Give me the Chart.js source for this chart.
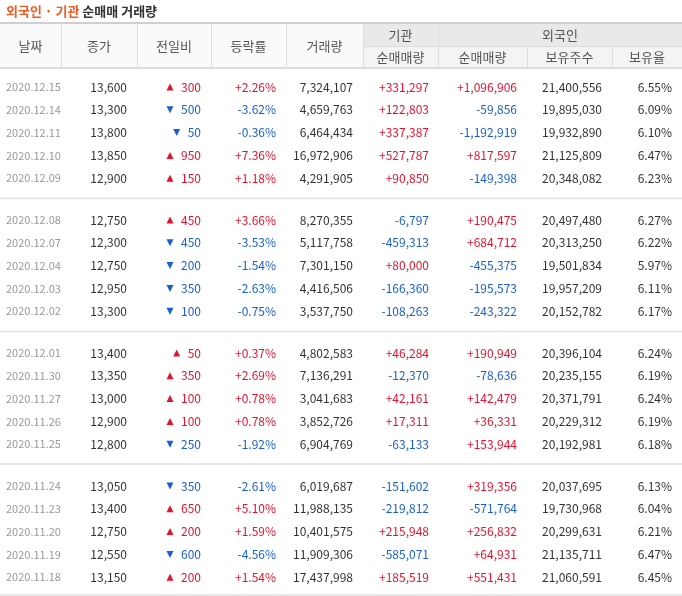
<!DOCTYPE html>
<html>
<head>
<meta charset="utf-8">
<script src="https://cdn.jsdelivr.net/npm/chart.js@4"></script>
<style>
  html, body { margin: 0; padding: 0; background: #fff; }
  #wrap { width: 682px; height: 596px; }
</style>
</head>
<body>
<div id="wrap"><canvas id="myChart"></canvas></div>
<script>
/*========== DATA ==========*/
const dates = ['2020.12.15','2020.12.14','2020.12.11','2020.12.10','2020.12.09',
  '2020.12.08','2020.12.07','2020.12.04','2020.12.03','2020.12.02',
  '2020.12.01','2020.11.30','2020.11.27','2020.11.26','2020.11.25',
  '2020.11.24','2020.11.23','2020.11.20','2020.11.19','2020.11.18'];
const closes = [13600,13300,13800,13850,12900, 12750,12300,12750,12950,13300,
  13400,13350,13000,12900,12800, 13050,13400,12750,12550,13150];
const changes = [300,-500,-50,950,150, 450,-450,-200,-350,-100,
  50,350,100,100,-250, -350,650,200,-600,200];
const rates = [2.26,-3.62,-0.36,7.36,1.18, 3.66,-3.53,-1.54,-2.63,-0.75,
  0.37,2.69,0.78,0.78,-1.92, -2.61,5.10,1.59,-4.56,1.54];
const volumes = [7324107,4659763,6464434,16972906,4291905, 8270355,5117758,7301150,4416506,3537750,
  4802583,7136291,3041683,3852726,6904769, 6019687,11988135,10401575,11909306,17437998];
const instNet = [331297,122803,337387,527787,90850, -6797,-459313,80000,-166360,-108263,
  46284,-12370,42161,17311,-63133, -151602,-219812,215948,-585071,185519];
const foreignNet = [1096906,-59856,-1192919,817597,-149398, 190475,684712,-455375,-195573,-243322,
  190949,-78636,142479,36331,153944, 319356,-571764,256832,64931,551431];
const foreignHold = [21400556,19895030,19932890,21125809,20348082, 20497480,20313250,19501834,19957209,20152782,
  20396104,20235155,20371791,20229312,20192981, 20037695,19730968,20299631,21135711,21060591];
const foreignRate = [6.55,6.09,6.10,6.47,6.23, 6.27,6.22,5.97,6.11,6.17,
  6.24,6.19,6.24,6.19,6.18, 6.13,6.04,6.21,6.47,6.45];

// vị trí cột (biên phải)
const colEdges = [0, 61, 137, 211, 286, 363, 438, 527, 612, 682];

const RED = '#e8112d', BLUE = '#1a5fd1', DARK = '#333', GRAY = '#999';
const FONT = '"Noto Sans CJK KR", "Noto Sans", sans-serif';

const fmt = n => Math.abs(n).toLocaleString('en-US');
const signed = n => (n > 0 ? '+' : '-') + fmt(n);
const rowY = i => 87 + Math.floor(i / 5) * 133 + (i % 5) * 22.8;

/*========== PLUGIN VE BANG ==========*/
const tablePlugin = {
  id: 'table',
  afterDraw(chart) {
    const c = chart.ctx, sx = chart.scales.x, sy = chart.scales.y;
    const X = v => sx.getPixelForValue(v), Y = v => sy.getPixelForValue(v);
    c.save();

    // tiêu đề
    c.font = 'bold 13px ' + FONT;
    c.textBaseline = 'middle';
    c.textAlign = 'left';
    c.fillStyle = '#f15a22';
    c.fillText('외국인 · 기관', X(6), Y(11));
    const w = c.measureText('외국인 · 기관 ').width;
    c.fillStyle = '#333';
    c.fillText('순매매 거래량', X(6) + w, Y(11));

    // header nền
    c.fillStyle = '#fafafa';
    c.fillRect(X(0), Y(24), X(363), Y(68) - Y(24));
    c.fillStyle = '#e9e9e9';
    c.fillRect(X(363), Y(24), X(682) - X(363), Y(46) - Y(24));
    c.fillStyle = '#f4f4f4';
    c.fillRect(X(363), Y(46), X(682) - X(363), Y(68) - Y(24) - (Y(46) - Y(24)));

    // đường kẻ header
    c.strokeStyle = '#dcdcdc';
    c.lineWidth = 1;
    for (let k = 1; k < colEdges.length - 1; k++) {
      const e = colEdges[k];
      if (e === 527 || e === 612) { line(c, X(e) + .5, Y(46), X(e) + .5, Y(68)); }
      else line(c, X(e) + .5, Y(24), X(e) + .5, Y(68));
    }
    line(c, X(438), Y(46) + .5, X(682), Y(46) + .5);
    line(c, X(363), Y(46) + .5, X(438), Y(46) + .5);
    c.strokeStyle = '#cfcfcf'; c.lineWidth = 2;
    line(c, X(0), Y(23), X(682), Y(23));
    c.strokeStyle = '#dddddd'; c.lineWidth = 2;
    line(c, X(0), Y(68), X(682), Y(68));

    // chữ header
    c.font = '13px ' + FONT;
    c.fillStyle = '#555';
    c.textAlign = 'center';
    const mid = k => (X(colEdges[k]) + X(colEdges[k + 1])) / 2;
    ['날짜', '종가', '전일비', '등락률', '거래량'].forEach((t, k) => c.fillText(t, mid(k), Y(46)));
    c.fillText('기관', mid(5), Y(35));
    c.fillText('외국인', (X(438) + X(682)) / 2, Y(35));
    ['순매매량', '순매매량', '보유주수', '보유율'].forEach((t, k) => c.fillText(t, mid(k + 5), Y(57)));

    // đường phân nhóm
    c.strokeStyle = '#e2e2e2'; c.lineWidth = 1.5;
    [198.5, 331.5, 464, 595].forEach(v => line(c, X(0), Y(v), X(682), Y(v)));

    // dữ liệu
    c.font = '12px ' + FONT;
    dates.forEach((d, i) => {
      const y = Y(rowY(i));
      c.textAlign = 'left';
      c.fillStyle = GRAY;
      c.font = '11px ' + FONT;
      c.fillText(d, X(6), y);
      c.font = '12px ' + FONT;
      c.textAlign = 'right';
      c.fillStyle = DARK;
      c.fillText(fmt(closes[i]), X(127), y);

      const up = changes[i] > 0;
      c.fillStyle = up ? RED : BLUE;
      c.fillText(fmt(changes[i]), X(201), y);
      const tw = c.measureText(fmt(changes[i])).width;
      const tx = X(201) - tw - 11;
      c.beginPath();
      if (up) { c.moveTo(tx - 3.5, y + 3.5); c.lineTo(tx + 3.5, y + 3.5); c.lineTo(tx, y - 3.5); }
      else { c.moveTo(tx - 3.5, y - 3.5); c.lineTo(tx + 3.5, y - 3.5); c.lineTo(tx, y + 3.5); }
      c.closePath(); c.fill();

      c.fillStyle = rates[i] > 0 ? RED : BLUE;
      c.fillText((rates[i] > 0 ? '+' : '-') + Math.abs(rates[i]).toFixed(2) + '%', X(276), y);
      c.fillStyle = DARK;
      c.fillText(fmt(volumes[i]), X(353), y);
      c.fillStyle = instNet[i] > 0 ? RED : BLUE;
      c.fillText(signed(instNet[i]), X(429), y);
      c.fillStyle = foreignNet[i] > 0 ? RED : BLUE;
      c.fillText(signed(foreignNet[i]), X(517), y);
      c.fillStyle = DARK;
      c.fillText(fmt(foreignHold[i]), X(602), y);
      c.fillText(foreignRate[i].toFixed(2) + '%', X(672), y);
    });
    c.restore();
  }
};

function line(c, x1, y1, x2, y2) {
  c.beginPath(); c.moveTo(x1, y1); c.lineTo(x2, y2); c.stroke();
}

/*========== TAO CHART ==========*/
const chart = new Chart(document.getElementById('myChart'), {
  type: 'scatter',
  data: { datasets: [{ data: [] }] },
  options: {
    animation: false,
    responsive: true,
    maintainAspectRatio: false,
    layout: { padding: 0 },
    plugins: { legend: { display: false }, tooltip: { enabled: false } },
    scales: {
      x: { type: 'linear', min: 0, max: 682, display: false },
      y: { type: 'linear', min: 0, max: 596, reverse: true, display: false }
    }
  },
  plugins: [tablePlugin]
});
</script>
</body>
</html>
